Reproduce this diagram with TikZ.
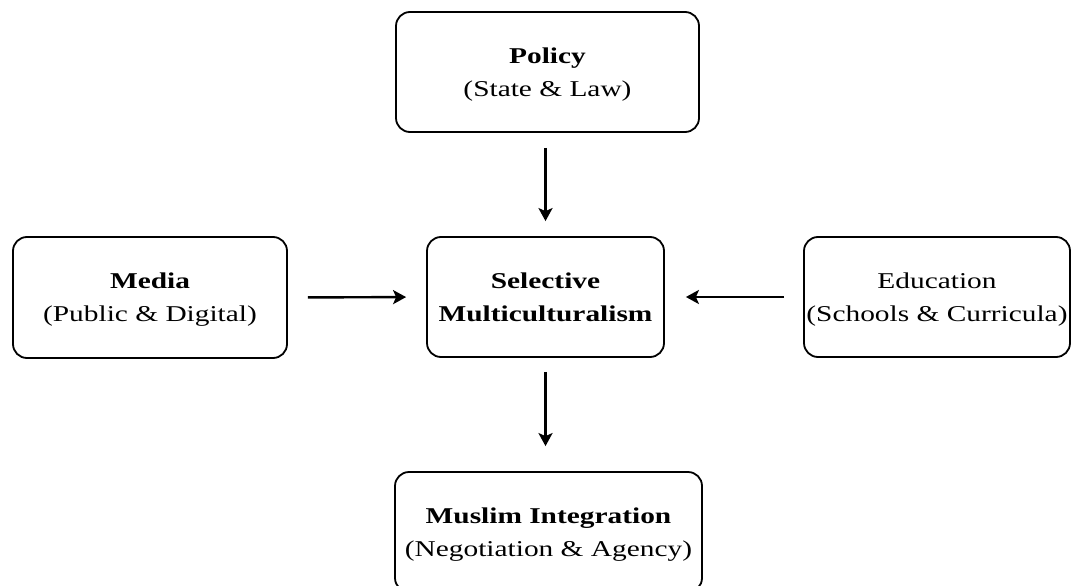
\documentclass[tikz,border=0pt]{standalone}
\usepackage{fontspec}
\setmainfont[FakeStretch=1.3]{Liberation Serif}
\usetikzlibrary{arrows.meta}
\tikzstyle{box} = [draw=black, line width=1.8pt, rounded corners=14pt, align=center, inner sep=0pt, text depth=-2pt, font=\fontsize{22.6}{33}\selectfont]
\tikzstyle{flow} = [draw=black, line width=2.4pt, -{Stealth[length=13pt,width=14pt,inset=3pt]}]

\begin{document}
\begin{tikzpicture}[x=1pt,y=-1pt]%
	\useasboundingbox (0,0) rectangle (1071,586);%
	% the five boxes
	\node [box, minimum width=303pt, minimum height=120pt] (policy) at (547.5,72) {\textbf{Policy}\\(State \& Law)};%
	\node [box, minimum width=274pt, minimum height=121pt] (media) at (150,297.5) {\textbf{Media}\\(Public \& Digital)};%
	\node [box, minimum width=237pt, minimum height=120pt] (select) at (545.5,297) {\textbf{Selective}\\\textbf{Multiculturalism}};%
	\node [box, minimum width=266pt, minimum height=120pt] (educ) at (937,297) {Education\\(Schools \& Curricula)};%
	\node [box, minimum width=307pt, minimum height=120pt] (muslim) at (548.5,532) {\textbf{Muslim Integration}\\(Negotiation \& Agency)};%
	% arrows
	\draw [flow, shorten <=15pt, shorten >=15pt] (policy.south -| select.north) -- (select.north);%
	\draw [flow, shorten <=20pt, shorten >=20pt] (media.east) -- (select.west);%
	\draw [flow, shorten <=19pt, shorten >=21pt] (educ.west) -- (select.east);%
	\draw [flow, shorten <=14pt, shorten >=25pt] (select.south) -- (select.south |- muslim.north);%
\end{tikzpicture}
\end{document}
